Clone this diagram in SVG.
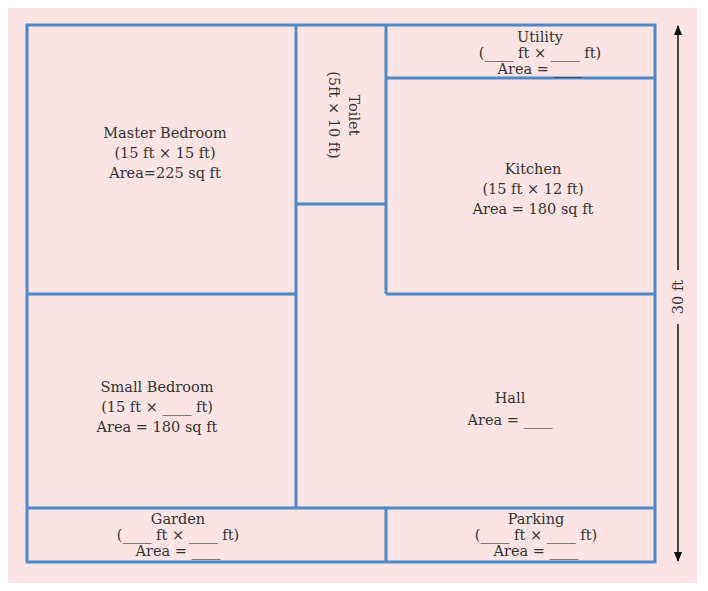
<svg xmlns="http://www.w3.org/2000/svg" width="708" height="591" viewBox="0 0 708 591">
<style>
.w{stroke:#4f88c6;stroke-width:3;fill:none}
text{font-family:"DejaVu Serif","Liberation Serif",serif;font-size:14.5px;fill:#333;text-anchor:middle}
</style>
<defs><marker id="a" markerWidth="10" markerHeight="10" refX="9" refY="5" orient="auto" markerUnits="userSpaceOnUse"><path d="M0,1 L10,5 L0,9 Z" fill="#111"/></marker></defs>
<rect x="8" y="8" width="689" height="575" fill="#fce4e4"/>
<g id="walls">
<rect class="w" x="27" y="25" width="628" height="537"/>
<path class="w" d="M296,25V508 M386,25V294 M296,204H386 M386,78H655 M27,294H296 M386,294H655 M27,508H655 M386,508V562"/>
</g>
<g id="master"><text x="165" y="138">Master Bedroom</text><text x="165" y="158">(15 ft × 15 ft)</text><text x="165" y="178">Area=225 sq ft</text></g>
<g id="toilet"><text transform="translate(341,115) rotate(90)"><tspan x="0" y="-8">Toilet</tspan><tspan x="0" y="12">(5ft × 10 ft)</tspan></text></g>
<g id="utility"><text x="540" y="42">Utility</text><text x="540" y="58">(____ ft × ____ ft)</text><text x="540" y="74">Area = ____</text></g>
<g id="kitchen"><text x="533" y="174">Kitchen</text><text x="533" y="194">(15 ft × 12 ft)</text><text x="533" y="214">Area = 180 sq ft</text></g>
<g id="small"><text x="157" y="392">Small Bedroom</text><text x="157" y="412">(15 ft × ____ ft)</text><text x="157" y="432">Area = 180 sq ft</text></g>
<g id="hall"><text x="510" y="403">Hall</text><text x="510" y="425">Area = ____</text></g>
<g id="garden"><text x="178" y="524">Garden</text><text x="178" y="540">(____ ft × ____ ft)</text><text x="178" y="556">Area = ____</text></g>
<g id="parking"><text x="536" y="524">Parking</text><text x="536" y="540">(____ ft × ____ ft)</text><text x="536" y="556">Area = ____</text></g>
<g id="connectors">
<path d="M678,270V26" stroke="#111" stroke-width="1.5" marker-end="url(#a)"/>
<path d="M678,324V561" stroke="#111" stroke-width="1.5" marker-end="url(#a)"/>
<text transform="translate(683,297) rotate(-90)">30 ft</text>
</g>
</svg>
